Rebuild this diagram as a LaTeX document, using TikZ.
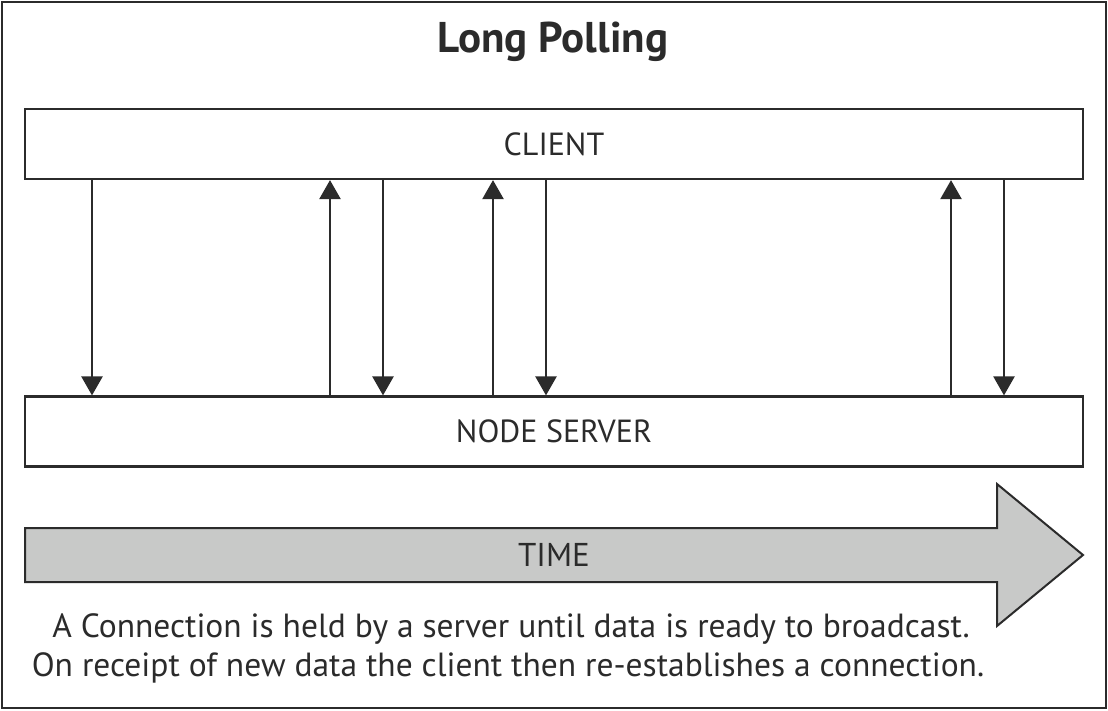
\documentclass[tikz,border=0pt]{standalone}
\usepackage{fontspec}
\setmainfont{PT Sans}
\usetikzlibrary{arrows.meta}
\definecolor{ink}{HTML}{2B2B2B}
\definecolor{timegray}{HTML}{C8C9C8}
\tikzset{
  box/.style={draw=ink, line width=2.2pt, minimum width=1058pt, minimum height=70pt, inner sep=0pt, font=\fontsize{32}{36}\selectfont, text=ink},
  msg/.style={draw=ink, line width=2.4pt, -{Triangle[width=21pt,length=19pt]}},
  note/.style={font=\fontsize{33.5}{38}\selectfont, text=ink},
}
\begin{document}
\begin{tikzpicture}[x=1pt,y=-1pt]
\useasboundingbox (0,0) rectangle (1108,710);
\draw[ink, line width=2.5pt] (2,2) rectangle (1106,708);
\node[font=\fontsize{43}{48}\selectfont\bfseries, text=ink] (title) at (553,42) {Long Polling};
\node[box] (client) at (554,144) {CLIENT};
\node[box] (server) at (554,431.5) {NODE SERVER};
\foreach \n/\x in {a/92,b/330,c/383,d/493,e/546,f/951,g/1004}{
  \coordinate (x\n) at (\x,300);
}
\draw[msg] (client.south -| xa) -- (server.north -| xa);
\draw[msg] (server.north -| xb) -- (client.south -| xb);
\draw[msg] (client.south -| xc) -- (server.north -| xc);
\draw[msg] (server.north -| xd) -- (client.south -| xd);
\draw[msg] (client.south -| xe) -- (server.north -| xe);
\draw[msg] (server.north -| xf) -- (client.south -| xf);
\draw[msg] (client.south -| xg) -- (server.north -| xg);
\draw[draw=ink, fill=timegray, line width=2pt, line join=miter]
  (25,528) -- (997,528) -- (997,484) -- (1083,555) -- (997,626) -- (997,582) -- (25,582) -- cycle;
\node[font=\fontsize{33}{36}\selectfont, text=ink] (time) at (554,555) {TIME};
\node[note] (l1) at (511,629) {A Connection is held by a server until data is ready to broadcast.};
\node[note] (l2) at (508,668) {On receipt of new data the client then re-establishes a connection.};
\end{tikzpicture}
\end{document}
